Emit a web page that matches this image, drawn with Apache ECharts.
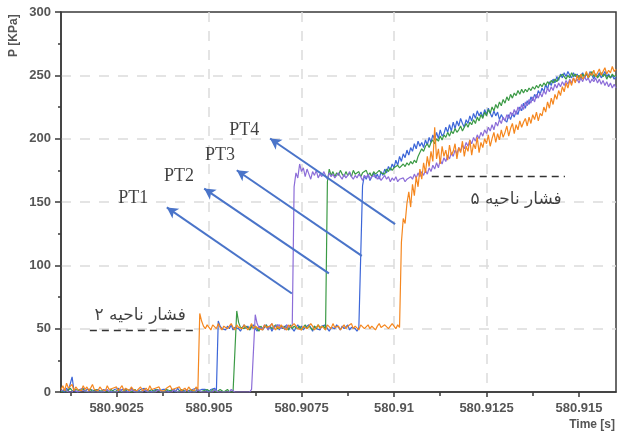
<!DOCTYPE html>
<html>
<head>
<meta charset="utf-8">
<script src="https://cdn.jsdelivr.net/npm/echarts@6/dist/echarts.min.js"></script>
<style>
  html, body { margin: 0; padding: 0; background: #fff; }
  #chart { width: 619px; height: 434px; }
</style>
</head>
<body>
<div id="chart"></div>
<script>
// Pressure transducer records, sampled every DT seconds from T0.
const T0 = 580.901;
const DT = 0.00005;

// PT1 (purple)
const pt1 = [
  1,0,2,1,0,1,0,2,1,0,
  0,1,0,1,2,0,1,0,1,0,
  1,0,1,0,1,2,0,1,0,1,
  0,1,2,0,1,0,1,0,2,1,
  0,1,0,1,0,2,1,0,1,0,
  1,0,1,2,0,1,0,1,0,1,
  0,2,1,0,1,0,1,0,2,0,
  1,0,1,0,2,1,0,1,0,1,
  0,1,0,2,1,0,1,0,1,0,
  1,0,2,1,0,1,0,1,0,1,
  0,1,0,2,1,61,54,51,52,50,
  53,51,49,52,54,50,52,51,53,50,
  52,49,53,51,50,52,162,173,169,180,
  174,177,170,176,172,168,174,171,175,169,
  172,170,174,171,168,173,170,172,169,171,
  173,170,168,172,169,171,174,170,168,171,
  169,172,170,167,171,169,172,168,170,169,
  171,168,170,167,169,171,168,170,166,169,
  167,170,166,168,167,169,166,168,167,170,
  168,172,169,173,170,174,171,175,172,177,
  174,179,176,181,177,183,180,185,182,187,
  184,189,186,191,188,193,190,195,192,197,
  194,199,196,201,198,203,200,205,202,207,
  204,209,206,211,207,213,210,215,212,217,
  214,219,216,221,218,223,219,225,222,227,
  223,229,226,231,228,233,229,235,232,236,
  233,238,235,240,237,241,238,243,240,244,
  241,245,242,246,243,247,244,248,245,247,
  244,248,245,249,246,248,244,247,245,248,
  244,247,243,246,242,245,241,244,240,243,
  240
];

// PT2 (green)
const pt2 = [
  0,1,2,0,1,3,1,0,2,1,
  1,0,2,1,0,1,2,0,1,2,
  0,1,1,2,0,1,0,2,1,0,
  1,2,0,1,1,0,2,1,0,1,
  2,0,1,0,1,2,1,0,1,2,
  0,1,2,1,0,1,0,2,1,1,
  0,2,1,0,1,2,1,0,1,0,
  2,1,0,1,2,0,1,1,0,2,
  1,0,2,1,0,1,2,1,0,1,
  2,0,1,0,1,64,55,51,52,50,
  52,51,49,53,50,52,51,48,52,50,
  51,53,49,52,50,51,53,50,49,52,
  50,52,51,49,53,50,52,51,50,52,
  49,51,53,50,52,51,49,52,50,53,
  51,50,52,49,166,176,171,174,170,173,
  171,175,172,170,174,171,173,170,175,172,
  171,174,170,173,172,175,171,173,170,174,
  172,171,175,173,174,172,176,174,177,175,
  177,176,179,177,178,180,178,181,179,182,
  180,183,181,186,189,192,190,194,196,193,
  197,199,196,200,198,202,199,203,201,205,
  202,206,204,208,205,207,210,206,209,212,
  209,213,211,215,212,217,214,219,216,221,
  218,223,220,225,222,227,224,229,226,231,
  228,233,230,235,232,236,234,238,235,239,
  236,239,237,240,238,241,239,242,240,243,
  241,244,242,245,243,246,244,247,245,248,
  248,251,249,247,250,248,252,249,251,248,
  250,247,251,249,252,248,250,253,249,251,
  248,250,252,249,251,247,250,248,251,249,
  250
];

// PT3 (blue)
const pt3 = [
  1,2,0,3,1,2,12,1,2,0,
  2,1,3,0,2,1,2,3,1,0,
  2,1,0,2,3,1,2,0,1,2,
  1,3,0,2,1,2,0,1,3,1,
  2,0,1,2,1,3,0,2,1,0,
  1,2,3,1,0,2,1,2,0,1,
  2,1,0,3,1,2,1,0,2,1,
  0,2,1,3,1,0,2,1,2,1,
  0,2,1,3,1,56,52,50,51,49,
  52,50,53,49,51,52,50,48,51,53,
  50,52,49,51,53,50,48,52,51,49,
  51,53,50,52,48,51,50,53,49,52,
  50,51,53,49,52,50,48,51,53,50,
  52,49,51,50,53,51,48,52,50,51,
  49,52,51,53,50,48,51,52,50,53,
  51,49,52,50,51,53,49,51,52,50,
  48,51,50,163,171,168,172,167,170,173,
  169,172,168,174,171,176,173,178,175,180,
  177,183,179,186,182,188,185,191,187,193,
  190,196,192,198,194,197,193,199,195,201,
  197,203,199,205,200,207,202,204,209,205,
  211,206,213,208,214,210,216,212,209,215,
  212,218,214,220,216,222,218,221,217,223,
  219,224,220,217,222,218,221,215,219,216,
  216,213,219,215,220,217,222,219,225,222,
  228,224,230,227,233,230,235,232,238,235,
  240,237,243,239,245,242,247,244,249,246,
  251,248,252,249,253,250,248,252,249,251,
  247,250,252,248,251,249,253,250,247,251,
  249,252,248,250,253,249,251,248,250,247,
  249
];

// PT4 (orange)
const pt4 = [
  2,5,1,7,3,2,6,1,4,2,
  3,1,5,2,4,1,3,6,2,3,
  1,4,2,3,1,5,2,1,3,2,
  4,1,2,5,1,3,2,1,4,2,
  3,1,2,4,1,2,3,1,5,2,
  1,3,2,4,1,2,1,3,2,5,
  2,1,3,2,4,1,2,3,1,4,
  2,3,1,4,2,62,56,52,50,53,
  51,49,53,52,50,54,51,49,52,53,
  50,52,54,51,49,53,51,52,50,53,
  52,49,51,54,50,52,53,50,51,49,
  53,51,50,52,54,51,49,52,50,53,
  51,52,49,53,51,50,54,52,50,51,
  49,52,53,50,51,54,52,49,51,53,
  50,52,51,49,53,52,50,54,51,50,
  52,49,51,53,50,52,51,54,50,52,
  51,49,53,52,50,51,53,50,52,51,
  49,52,54,51,50,53,52,50,51,54,
  52,50,53,51,118,137,133,149,158,146,
  164,155,170,162,176,168,181,173,186,178,
  190,182,209,184,192,180,194,186,191,183,
  195,187,190,196,184,193,189,198,186,194,
  190,199,187,196,192,201,189,197,193,200,
  196,203,194,200,205,197,204,199,207,201,
  205,210,202,208,212,204,211,207,214,209,
  213,216,210,217,212,219,215,221,214,220,
  218,225,221,229,224,232,227,235,231,238,
  234,241,237,244,240,246,242,248,244,250,
  246,251,247,249,253,248,252,250,254,249,
  252,255,250,253,256,251,254,252,257,253,
  255
];

// Axis ticks
const xMajorTicks = [580.9025, 580.905, 580.9075, 580.91, 580.9125, 580.915];
const xMinorTicks = [580.90125, 580.90375, 580.90625, 580.90875, 580.91125, 580.91375];

// Arrows from each reflected-shock front to its sensor label
const ptNames = ['PT1', 'PT2', 'PT3', 'PT4'];
const arrowFrom = [[580.90724, 77.8], [580.90824, 93.6], [580.90913, 107.5], [580.91003, 132.5]];
const arrowTo = [[580.90386, 145.7], [580.90487, 160.6], [580.90575, 175.1], [580.90665, 200.1]];
const ptLabelAt = [[580.90295, 153], [580.90419, 170.3], [580.9053, 186.9], [580.90595, 206.6]];

// Region pressure levels
const regionNames = ['فشار ناحیه ۲', 'فشار ناحیه ۵'];
const regionLevels = [49, 170];
const regionSpans = [[580.90178, 580.9047], [580.91102, 580.91462]];
const regionLabelAt = [[580.90314, 60], [580.9133, 152]];

const X_MIN = 580.901, X_MAX = 580.916;

function toPairs(values) {
  return values.map((p, i) => [T0 + i * DT, p]);
}

const fmtX = v => String(parseFloat(Number(v).toFixed(5)));

const traces = [
  { name: 'PT3', data: pt3, color: '#3c66d8' },
  { name: 'PT2', data: pt2, color: '#3b9a45' },
  { name: 'PT1', data: pt1, color: '#8c6dd8' },
  { name: 'PT4', data: pt4, color: '#f5871f' }
];

const labelItems = ptNames.map((n, i) => ({
  name: n,
  value: ptLabelAt[i],
  label: { fontFamily: 'Liberation Serif', fontSize: 18, color: '#111' }
})).concat(regionNames.map((n, i) => ({
  name: n,
  value: regionLabelAt[i],
  label: { fontFamily: 'DejaVu Sans', fontSize: 17, color: '#111' }
})));

const arrowLines = arrowFrom.map((a, i) => [
  { coord: a, symbol: 'none' },
  { coord: arrowTo[i], symbol: 'arrow', symbolSize: [9, 11] }
]);
const levelLines = regionLevels.map((lv, i) => [
  { coord: [regionSpans[i][0], lv], symbol: 'none',
    lineStyle: { color: '#333', width: 1.4, type: [7, 5] } },
  { coord: [regionSpans[i][1], lv], symbol: 'none' }
]);

const chart = echarts.init(document.getElementById('chart'), null, { renderer: 'canvas' });

chart.setOption({
  animation: false,
  backgroundColor: '#fff',
  grid: {
    left: 61, right: 3, top: 12, bottom: 42,
    show: true, borderColor: '#3a3a3a', borderWidth: 1.5, backgroundColor: 'transparent'
  },
  xAxis: [
    {
      type: 'value', min: X_MIN, max: X_MAX, position: 'bottom',
      axisLine: { show: true, lineStyle: { color: '#3a3a3a', width: 1.5 } },
      axisTick: { show: true, length: 5, customValues: xMajorTicks, lineStyle: { color: '#3a3a3a', width: 1.5 } },
      axisLabel: {
        show: true, customValues: xMajorTicks, formatter: fmtX, margin: 10,
        color: '#555', fontFamily: 'Liberation Sans', fontWeight: 'bold', fontSize: 13
      },
      splitLine: {
        show: true, showMinLine: false, showMaxLine: false,
        lineStyle: { color: '#dcdcdc', width: 1.5, type: [10, 9] }
      }
    },
    {
      type: 'value', min: X_MIN, max: X_MAX, position: 'bottom', offset: 0,
      axisLine: { show: false },
      axisTick: { show: true, length: 4, customValues: xMinorTicks, lineStyle: { color: '#3a3a3a', width: 1.5 } },
      axisLabel: { show: false },
      splitLine: { show: false }
    }
  ],
  yAxis: {
    type: 'value', min: 0, max: 300, interval: 50,
    axisLine: { show: true, lineStyle: { color: '#3a3a3a', width: 1.5 } },
    axisTick: { show: true, length: 6, lineStyle: { color: '#3a3a3a', width: 1.5 } },
    minorTick: { show: true, splitNumber: 2, length: 3, lineStyle: { color: '#3a3a3a', width: 1.5 } },
    axisLabel: {
      margin: 10, color: '#555', fontFamily: 'Liberation Sans', fontWeight: 'bold', fontSize: 13
    },
    splitLine: {
      show: true, showMinLine: false, showMaxLine: false,
      lineStyle: { color: '#dcdcdc', width: 1.5, type: [10, 9] }
    }
  },
  graphic: [
    {
      type: 'text', x: 8, y: 57, rotation: Math.PI / 2,
      style: { text: 'P [KPa]', fill: '#555', font: 'bold 12px "Liberation Sans"', textVerticalAlign: 'top' }
    },
    {
      type: 'text', x: 615, y: 419,
      style: { text: 'Time [s]', fill: '#555', font: 'bold 12px "Liberation Sans"', textAlign: 'right', textVerticalAlign: 'top' }
    }
  ],
  series: traces.map(tr => ({
    name: tr.name,
    type: 'line',
    xAxisIndex: 0,
    data: toPairs(tr.data),
    showSymbol: false,
    symbol: 'none',
    lineStyle: { color: tr.color, width: 1.2 },
    itemStyle: { color: tr.color },
    z: 3
  })).concat([{
    name: 'annotations',
    type: 'scatter',
    xAxisIndex: 0,
    symbol: 'circle',
    symbolSize: 2,
    itemStyle: { color: 'rgba(0,0,0,0)' },
    z: 5,
    label: { show: true, position: 'inside', formatter: p => p.name },
    data: labelItems,
    markLine: {
      silent: true,
      animation: false,
      label: { show: false },
      lineStyle: { color: '#4a74c9', width: 2, type: 'solid' },
      data: arrowLines.concat(levelLines)
    }
  }])
});
</script>
</body>
</html>
